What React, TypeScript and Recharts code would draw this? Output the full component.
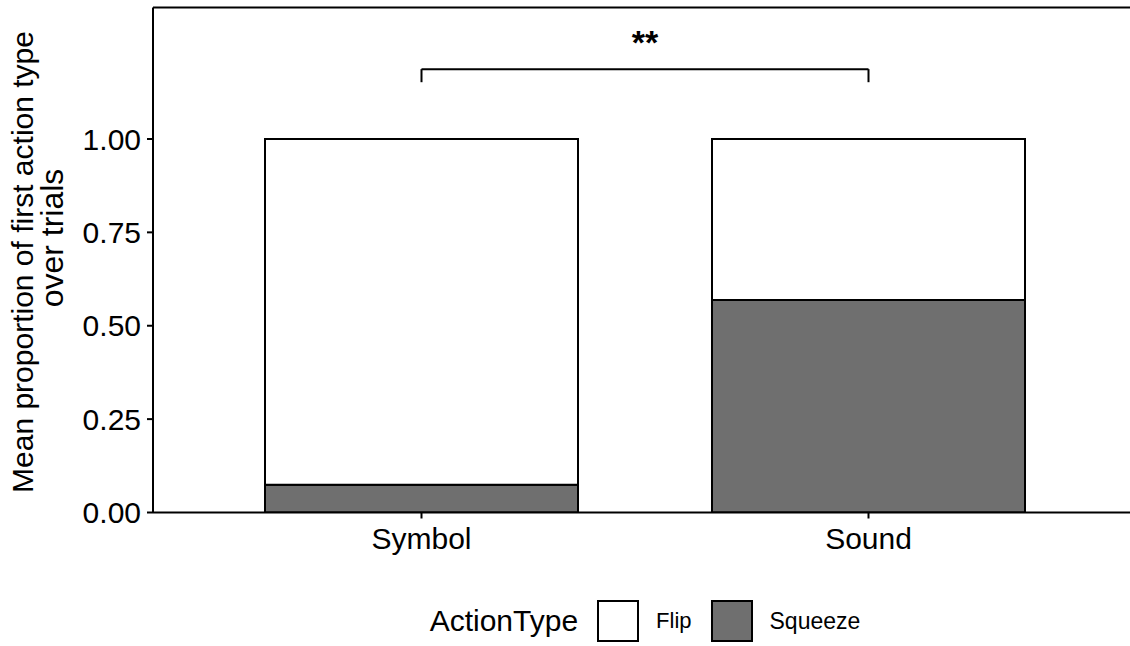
import React from "react";
import {
  BarChart,
  Bar,
  XAxis,
  YAxis,
  ReferenceLine,
  Legend,
} from "recharts";

// 条件（カテゴリ）
const conditions = ["Symbol", "Sound"];
// 各条件での最初の行動タイプの平均割合
const squeezeValues = [0.074, 0.569];
const flipValues = [0.926, 0.431];
// y軸の目盛り
const yTicks = [0, 0.25, 0.5, 0.75, 1];
const yMax = 1.352;
// 有意差ブラケット
const bracketY = 1.187;
const bracketTickY = 1.152;
const bracketText = "**";

const FONT = "'Liberation Sans', Arial, Helvetica, sans-serif";
const SQUEEZE_FILL = "#6f6f6f";

const data = conditions.map((name, i) => ({
  name,
  Squeeze: squeezeValues[i],
  Flip: flipValues[i],
}));

// y軸タイトル（2行）
const YAxisTitle = (props: any) => {
  const vb = props.viewBox || {};
  const cy = (vb.y ?? 0) + (vb.height ?? 0) / 2;
  return (
    <g fontFamily={FONT} fontSize={30} fill="#000">
      <text x={33} y={cy + 2} textAnchor="middle" transform={`rotate(-90, 33, ${cy + 2})`}>
        Mean proportion of first action type
      </text>
      <text
        x={63}
        y={cy - 22}
        textAnchor="middle"
        fontSize={32}
        transform={`rotate(-90, 63, ${cy - 22})`}
      >
        over trials
      </text>
    </g>
  );
};

const swatch = (fill: string): React.CSSProperties => ({
  width: 38,
  height: 38,
  border: "2px solid #000",
  background: fill,
  boxSizing: "content-box",
});

// 凡例
const LegendContent = () => (
  <div
    style={{
      width: 1140,
      height: 50,
      display: "flex",
      alignItems: "center",
      justifyContent: "center",
      paddingLeft: 150,
      boxSizing: "border-box",
      fontFamily: FONT,
      color: "#000",
    }}
  >
    <span style={{ fontSize: 30, marginRight: 19 }}>ActionType</span>
    <div style={swatch("#fff")} />
    <span style={{ fontSize: 22, marginLeft: 17, marginRight: 19 }}>Flip</span>
    <div style={swatch(SQUEEZE_FILL)} />
    <span style={{ fontSize: 23, marginLeft: 17 }}>Squeeze</span>
  </div>
);

const App = () => {
  return (
    <div
      style={{
        position: "absolute",
        left: 0,
        top: 0,
        width: 1130,
        height: 646,
        overflow: "hidden",
        background: "#fff",
      }}
    >
      <BarChart
        width={1140}
        height={646}
        data={data}
        margin={{ top: 7.5, right: 3, bottom: 0, left: 0 }}
        barSize={313}
      >
        <XAxis
          dataKey="name"
          padding={{ left: 45, right: 45 }}
          height={83.5}
          axisLine={{ stroke: "#000", strokeWidth: 2 }}
          tickLine={{ stroke: "#000", strokeWidth: 2 }}
          tickSize={6}
          tickMargin={9}
          tick={{ fontSize: 30, fill: "#000", fontFamily: FONT }}
        />
        <YAxis
          width={153}
          domain={[0, yMax]}
          ticks={yTicks}
          allowDataOverflow
          tickFormatter={(v: number) => v.toFixed(2)}
          axisLine={{ stroke: "#000", strokeWidth: 2 }}
          tickLine={{ stroke: "#000", strokeWidth: 2 }}
          tickSize={6}
          tickMargin={6}
          tick={{ fontSize: 30, fill: "#000", fontFamily: FONT }}
          label={<YAxisTitle />}
        />
        <ReferenceLine y={yMax} stroke="#000" strokeWidth={2} />
        <Bar
          dataKey="Squeeze"
          stackId="a"
          fill={SQUEEZE_FILL}
          stroke="#000"
          strokeWidth={2}
          isAnimationActive={false}
        />
        <Bar
          dataKey="Flip"
          stackId="a"
          fill="#fff"
          stroke="#000"
          strokeWidth={2}
          isAnimationActive={false}
        />
        <ReferenceLine
          segment={[
            { x: conditions[0], y: bracketY },
            { x: conditions[1], y: bracketY },
          ]}
          stroke="#000"
          strokeWidth={2}
          label={{
            value: bracketText,
            position: "top",
            offset: 15,
            fontSize: 34,
            fontWeight: "bold",
            fill: "#000",
            fontFamily: FONT,
          }}
        />
        <ReferenceLine
          segment={[
            { x: conditions[0], y: bracketY },
            { x: conditions[0], y: bracketTickY },
          ]}
          stroke="#000"
          strokeWidth={2}
        />
        <ReferenceLine
          segment={[
            { x: conditions[1], y: bracketY },
            { x: conditions[1], y: bracketTickY },
          ]}
          stroke="#000"
          strokeWidth={2}
        />
        <Legend verticalAlign="bottom" content={<LegendContent />} />
      </BarChart>
    </div>
  );
};

export default App;
